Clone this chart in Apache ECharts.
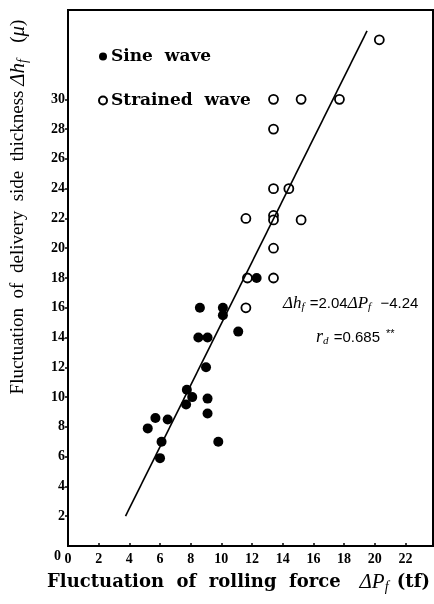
<!DOCTYPE html>
<html><head><meta charset="utf-8">
<script src="https://cdn.jsdelivr.net/npm/echarts@6/dist/echarts.min.js"></script>
<style>html,body{margin:0;padding:0;background:#fff}#c{width:434px;height:604px}</style>
</head><body><div id="c"></div>
<script>
// Sine wave (filled) points [ΔPf, Δhf]
const sineWave = [
  [12.3,18],[8.6,16],[10.1,16],[10.1,15.5],[11.1,14.4],[8.5,14],[9.1,14],[9.0,12],
  [7.75,10.5],[8.1,10],[7.7,9.5],[9.1,9.9],[9.1,8.9],[5.7,8.6],[6.5,8.5],[5.2,7.9],
  [6.1,7],[6.0,5.9],[9.8,7]
];
// Strained wave (open) points
const strainedWave = [
  [20.3,34],[13.4,30],[15.2,30],[17.7,30],[13.4,28],[13.4,24],[14.4,24],[11.6,22],
  [13.4,22.2],[13.4,21.9],[15.2,21.9],[13.4,20],[13.4,18],[11.7,18],[11.6,16]
];
// Regression line end points as drawn
const regressionLine = [[3.75,2.0],[19.5,34.6]];
const seriesNames = ['Sine wave','Strained wave'];
const xTicks = [0,2,4,6,8,10,12,14,16,18,20,22];
const yTicks = [0,2,4,6,8,10,12,14,16,18,20,22,24,26,28,30];

const serif = 'Liberation Serif';
const chart = echarts.init(document.getElementById('c'), null, {renderer:'canvas'});
chart.setOption({
  backgroundColor:'#fff',
  animation:false,
  grid:{left:60, right:1, top:10, bottom:58, show:true, borderColor:'#000', borderWidth:2, containLabel:false},
  legend:{
    data:seriesNames, orient:'vertical', left:93, top:43, itemWidth:8, itemHeight:8, itemGap:27,
    formatter:n=>n.replace(' ','  '),
    textStyle:{fontFamily:'DejaVu Serif', fontWeight:'bold', fontSize:17, color:'#000', padding:[0,0,0,-1]}
  },
  xAxis:{
    type:'value', min:0, max:23.8, interval:2,
    name:'{t|Fluctuation  of  rolling  force   }{i|ΔP}{s|f}{t| (tf)}',
    nameLocation:'middle', nameGap:25,
    nameTextStyle:{padding:[0,24,0,0], rich:{
      t:{fontFamily:'DejaVu Serif', fontWeight:'bold', fontSize:18, color:'#000'},
      i:{fontFamily:serif, fontStyle:'italic', fontSize:21, color:'#000'},
      s:{fontFamily:serif, fontStyle:'italic', fontSize:14, color:'#000', padding:[9,2,0,0]}
    }},
    axisLine:{show:true, lineStyle:{color:'#000', width:2}},
    axisTick:{show:true, inside:true, length:3, customValues:xTicks.slice(1), lineStyle:{color:'#000', width:1.5}},
    axisLabel:{margin:6, customValues:xTicks, fontFamily:serif, fontWeight:'bold', fontSize:14, color:'#000'},
    splitLine:{show:false}
  },
  yAxis:{
    type:'value', min:0, max:36, interval:2,
    name:'{t|Fluctuation  of  delivery  side  thickness }{i|Δh}{s|f}{t|   (}{i|μ}{t|)}',
    nameLocation:'middle', nameGap:38,
    nameTextStyle:{padding:[0,0,0,142], rich:{
      t:{fontFamily:serif, fontSize:19, color:'#000'},
      i:{fontFamily:serif, fontStyle:'italic', fontSize:21, color:'#000'},
      s:{fontFamily:serif, fontStyle:'italic', fontSize:14, color:'#000', padding:[9,2,0,0]}
    }},
    axisLine:{show:true, lineStyle:{color:'#000', width:2}},
    axisTick:{show:true, inside:false, length:3, customValues:yTicks.slice(1), lineStyle:{color:'#000', width:1.5}},
    axisLabel:{margin:3, customValues:yTicks, fontFamily:serif, fontWeight:'bold', fontSize:14, color:'#000',
      formatter:v=> v===0 ? '{z|0}' : String(v),
      rich:{z:{fontFamily:serif, fontWeight:'bold', fontSize:14, color:'#000', padding:[20,4,0,0]}}},
    splitLine:{show:false}
  },
  series:[
    {name:seriesNames[1], type:'scatter', data:strainedWave, symbol:'circle', symbolSize:9, z:3,
     itemStyle:{color:'#fff', borderColor:'#000', borderWidth:1.8, opacity:1}},
    {name:seriesNames[0], type:'scatter', data:sineWave, symbol:'circle', symbolSize:10, z:4,
     itemStyle:{color:'#000', borderColor:'#000', borderWidth:0, opacity:1}},
    {type:'line', data:regressionLine, symbol:'none', z:5, silent:true,
     lineStyle:{color:'#000', width:1.6}}
  ],
  graphic:[
    {type:'text', left:283, top:295, z:10, style:{
      text:'{i|Δh}{s|f}{n| =2.04}{i|ΔP}{s|f}{n|  −4.24}',
      rich:{
        i:{fontFamily:serif, fontStyle:'italic', fontSize:17, fill:'#000'},
        s:{fontFamily:serif, fontStyle:'italic', fontSize:11, fill:'#000', padding:[7,1,0,0]},
        n:{fontFamily:'Liberation Sans', fontSize:15, fill:'#000'}
      }}},
    {type:'text', left:316, top:328, z:10, style:{
      text:'{i|r}{s|d}{n| =0.685}{k|  **}',
      rich:{
        i:{fontFamily:serif, fontStyle:'italic', fontSize:18, fill:'#000'},
        s:{fontFamily:serif, fontStyle:'italic', fontSize:11, fill:'#000', padding:[7,1,0,0]},
        n:{fontFamily:'Liberation Sans', fontSize:15, fill:'#000'},
        k:{fontFamily:'Liberation Sans', fontSize:11, fill:'#000', padding:[0,0,8,0]}
      }}}
  ]
});
</script></body></html>
